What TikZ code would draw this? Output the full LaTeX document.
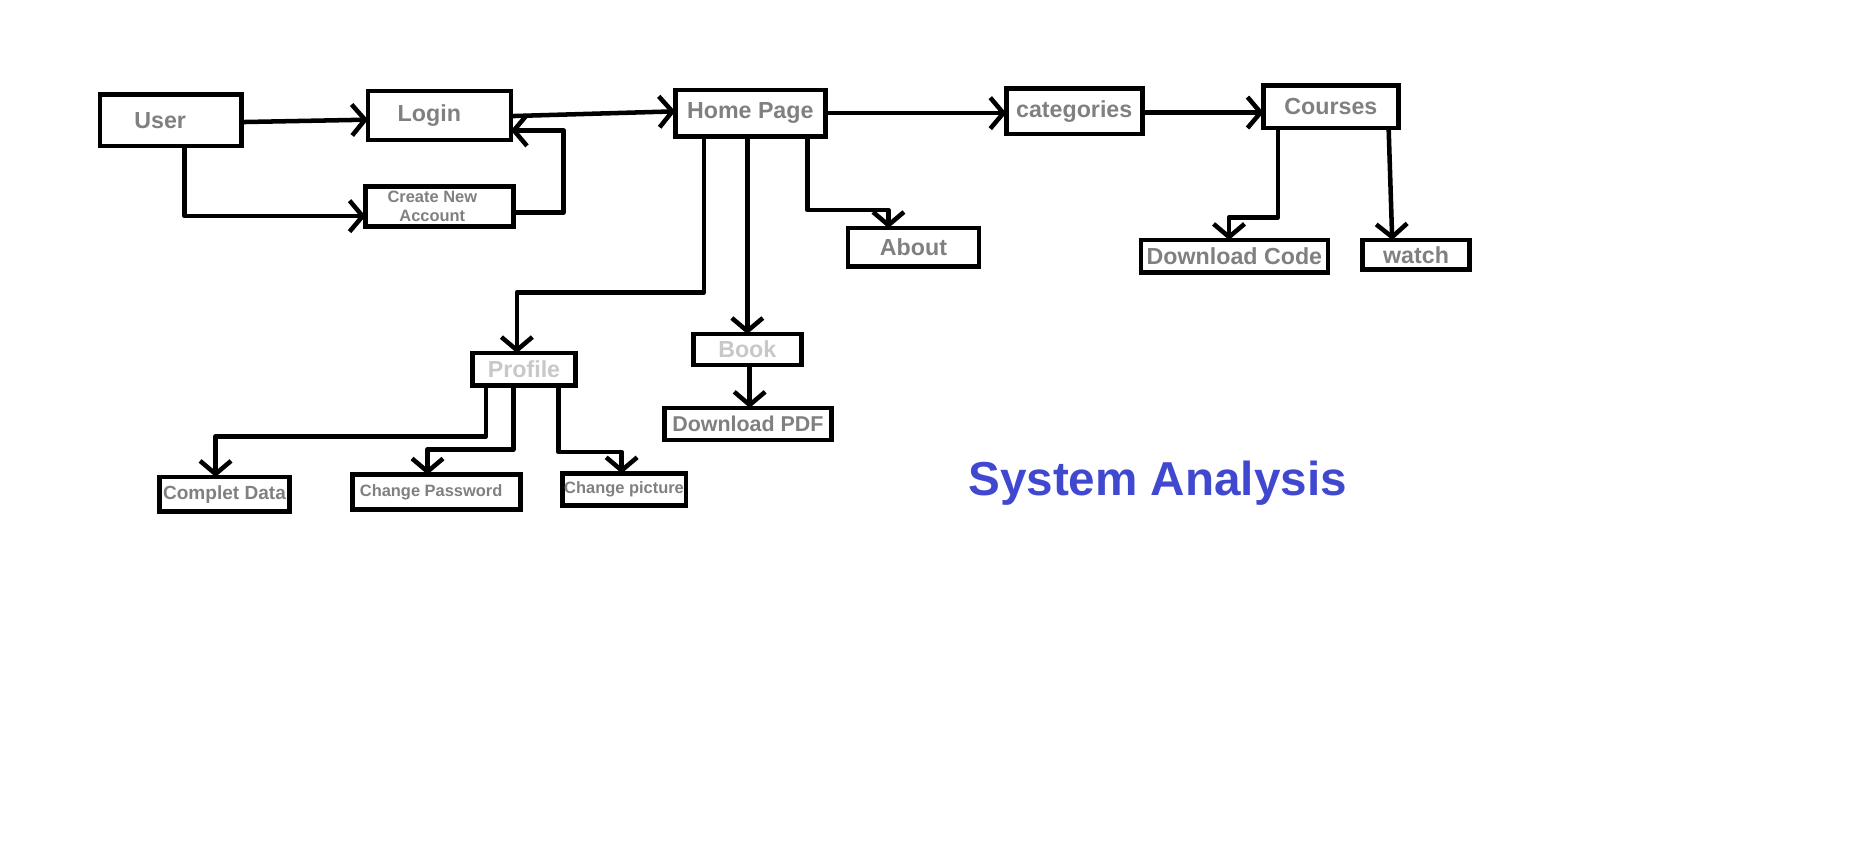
\documentclass[tikz,border=0pt]{standalone}
\usepackage{fontspec}
\setmainfont{Liberation Sans}
\usetikzlibrary{arrows.meta}
\definecolor{txtgray}{RGB}{128,128,128}
\definecolor{paletxt}{RGB}{200,200,200}
\definecolor{titleblue}{RGB}{64,72,208}
\tikzset{
  box/.style={draw=black, line width=4pt, inner sep=0pt, outer sep=0pt, fill=white},
  big/.style={font=\bfseries\fontsize{19.5}{23}\selectfont, text=txtgray},
  mid/.style={font=\bfseries\fontsize{18}{21}\selectfont, text=txtgray},
  small/.style={font=\bfseries\fontsize{16}{19}\selectfont, text=txtgray},
  tiny/.style={font=\bfseries\fontsize{13.8}{16}\selectfont, text=txtgray},
  pale/.style={text=paletxt},
  conn/.style={draw=black, line width=3.8pt, line join=round,
    -{Straight Barb[length=11pt,width=26pt,line width=3.8pt]}},
}
\begin{document}
\begin{tikzpicture}[x=1pt,y=1pt]
\useasboundingbox (0,2.5) rectangle (1566,-714.6);
% nodes
\node[box, minimum width=119, minimum height=43,
      label={[big, xshift=-9pt]center:User}] (user) at (143.5,-98.5) {};
\node[box, minimum width=120, minimum height=41,
      label={[big, xshift=-8.5pt]center:Login}] (login) at (369,-94.5) {};
\node[box, minimum width=124, minimum height=34,
      label={[tiny, align=center, xshift=-6pt]center:Create New\\Account}] (cna) at (369,-171) {};
\node[box, big, minimum width=126, minimum height=39] (hp) at (630,-92.5) {Home Page};
\node[box, big, minimum width=114, minimum height=38] (cat) at (902,-91) {categories};
\node[box, big, minimum width=113, minimum height=36] (courses) at (1117.5,-87) {Courses};
\node[box, big, minimum width=110, minimum height=32] (about) at (767,-205) {About};
\node[box, big, minimum width=157, minimum height=27] (dlc) at (1036.5,-212.5) {Download Code};
\node[box, big, minimum width=90, minimum height=25] (watch) at (1189,-211.5) {watch};
\node[box, big, pale, minimum width=86, minimum height=27] (profile) at (440,-307.5) {Profile};
\node[box, big, pale, minimum width=91, minimum height=26] (book) at (627.5,-291) {Book};
\node[box, mid, minimum width=140, minimum height=27] (dpdf) at (628,-353.5) {Download PDF};
\node[box, small, minimum width=109, minimum height=29] (cd) at (188.5,-412.5) {Complet Data};
\node[box, minimum width=141, minimum height=29,
      label={[tiny, xshift=-4.5pt]center:Change Password}] (cp) at (366.5,-410.5) {};
\node[box, tiny, minimum width=104, minimum height=27] (cpic) at (524,-408.5) {Change picture};
\node[font=\bfseries\fontsize{40}{46}\selectfont, text=titleblue] (title) at (972,-403) {System Analysis};
% connectors
\draw[conn] ([yshift=-1.5pt]user.east) -- ([yshift=-3.5pt]login.west);
\draw[conn] ([xshift=11.5pt]user.south) |- ([yshift=-8pt]cna.west);
\draw[conn] ([yshift=-5pt]cna.east) -- ++(42,0) |- ([yshift=-12.5pt]login.east);
\draw[conn] ([yshift=-0.5pt]login.east) -- ([yshift=1.5pt]hp.west);
\draw[conn] (hp.east) -- (hp.east -| cat.west);
\draw[conn] ([yshift=-1pt]cat.east) -- ([yshift=-1pt]cat.east -| courses.west);
\draw[conn] ([xshift=48pt]hp.south) |- ([xshift=-21pt,yshift=15pt]about.north) -- ([xshift=-21pt]about.north);
\draw[conn] ([xshift=-39pt]hp.south) |- ([xshift=-6pt,yshift=51pt]profile.north) -- ([xshift=-6pt]profile.north);
\draw[conn] (book.north |- hp.south) -- (book.north);
\draw[conn] ([xshift=2pt]book.south) -- ([xshift=2pt]book.south |- dpdf.north);
\draw[conn] ([xshift=-32pt]profile.south) |- ([xshift=-7.5pt,yshift=34pt]cd.north) -- ([xshift=-7.5pt]cd.north);
\draw[conn] ([xshift=-9pt]profile.south) |- ([xshift=-7.5pt,yshift=21pt]cp.north) -- ([xshift=-7.5pt]cp.north);
\draw[conn] ([xshift=29pt]profile.south) |- ([xshift=-2pt,yshift=18pt]cpic.north) -- ([xshift=-2pt]cpic.north);
\draw[conn] ([xshift=-44.5pt]courses.south) |- ([xshift=-4.5pt,yshift=19pt]dlc.north) -- ([xshift=-4.5pt]dlc.north);
\draw[conn] ([xshift=48.5pt]courses.south) -- ([xshift=-20pt]watch.north);
\end{tikzpicture}
\end{document}
